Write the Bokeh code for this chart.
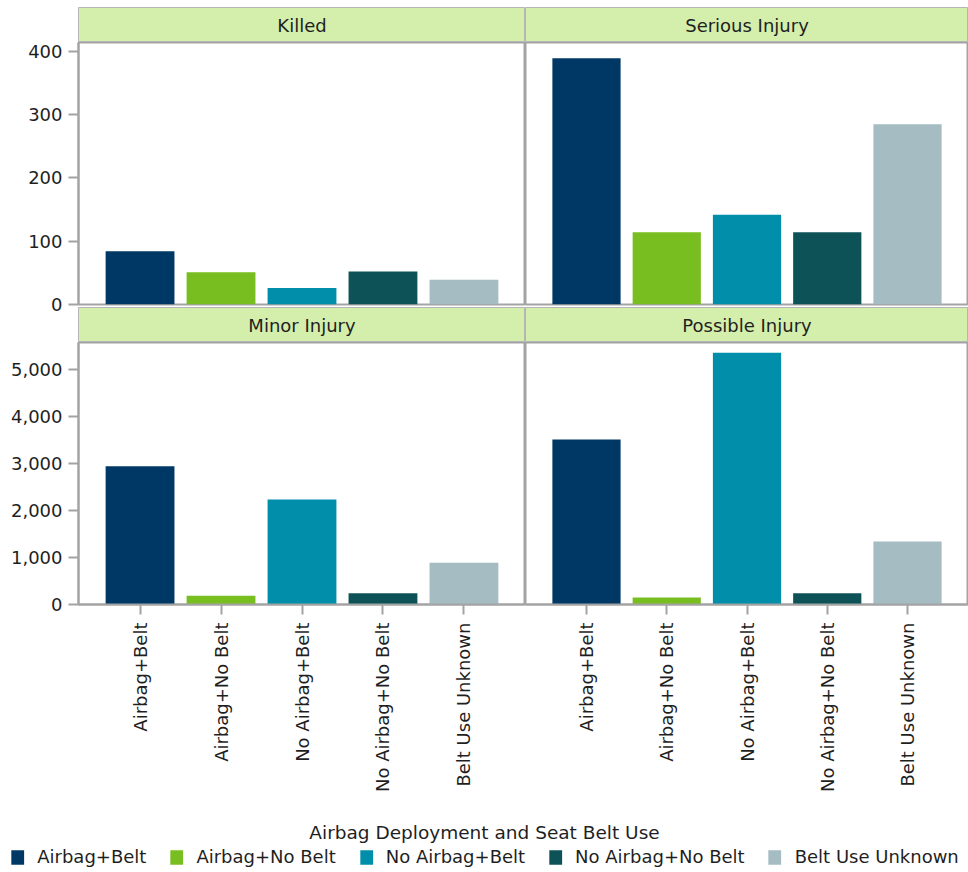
import math
from bokeh.plotting import figure
from bokeh.layouts import column, row
from bokeh.models import (ColumnDataSource, FactorRange, Range1d, SingleIntervalTicker,
                          NumeralTickFormatter, Legend, LegendItem)
from bokeh.core.properties import value
from bokeh.embed import file_html
from bokeh.resources import INLINE

# ---------------- data ----------------
categories = ["Airbag+Belt", "Airbag+No Belt", "No Airbag+Belt", "No Airbag+No Belt", "Belt Use Unknown"]
colors = ["#003865", "#78BE21", "#008EAA", "#0D5257", "#A4BCC2"]
panel_titles = ["Killed", "Serious Injury", "Minor Injury", "Possible Injury"]
killed = [84, 51, 26, 52, 39]
serious = [389, 114, 142, 114, 285]
minor = [2943, 185, 2234, 240, 887]
possible = [3511, 149, 5355, 240, 1340]
legend_title = "Airbag Deployment and Seat Belt Use"

# ---------------- style ----------------
FONT = "DejaVu Sans"
FS = "18px"
TXT = "#1f1f1f"
AX = "#a3a3a3"
HEAD = "#D4EEAB"
AXIS_W = 78
FRAME_W = [447, 443]
FRAME_H = 262


def header(title, left, top_pad):
    w = FRAME_W[0 if left else 1] + (AXIS_W if left else 0)
    p = figure(width=w, height=35 + top_pad, x_range=Range1d(0, 1), y_range=Range1d(0, 1),
               x_axis_location=None, y_axis_location=None, toolbar_location=None,
               output_backend="svg", min_border_left=AXIS_W if left else 0,
               min_border_right=0, min_border_top=top_pad, min_border_bottom=0,
               background_fill_color=HEAD, border_fill_alpha=0,
               outline_line_color="#b5b5b5", outline_line_width=1)
    p.grid.visible = False
    p.text(x=[0.5], y=[0.5], text=[title], text_align="center", text_baseline="middle",
           text_font=value(FONT), text_font_size=FS, text_color=TXT)
    return p


def panel(vals, ymax, interval, left, bottom):
    w = FRAME_W[0 if left else 1] + (AXIS_W if left else 0)
    bb = 196 if bottom else 11
    h = FRAME_H + bb
    xr = FactorRange(factors=categories, range_padding=0.26, range_padding_units="absolute")
    p = figure(width=w, height=h, x_range=xr, y_range=Range1d(0, ymax),
               x_axis_location="below" if bottom else None,
               y_axis_location="left" if left else None,
               toolbar_location=None, output_backend="svg",
               min_border_left=AXIS_W if left else 0, min_border_right=0,
               min_border_top=0, min_border_bottom=bb,
               outline_line_color=AX, outline_line_width=2, border_fill_alpha=0)
    p.grid.visible = False
    src = ColumnDataSource(dict(cat=categories, val=vals, col=colors))
    p.vbar(x="cat", top="val", width=0.85, source=src, fill_color="col", line_color=None)
    if left:
        ax = p.yaxis[0]
        ax.ticker = SingleIntervalTicker(interval=interval, num_minor_ticks=0)
        ax.formatter = NumeralTickFormatter(format="0,0")
        ax.axis_line_color = AX
        ax.axis_line_width = 2
        ax.major_tick_line_color = AX
        ax.major_tick_line_width = 2
        ax.major_tick_out = 10
        ax.major_tick_in = 0
        ax.minor_tick_line_color = None
        ax.major_label_standoff = 6
        ax.major_label_text_font = FONT
        ax.major_label_text_font_size = FS
        ax.major_label_text_color = TXT
    if bottom:
        ax = p.xaxis[0]
        ax.axis_line_color = AX
        ax.axis_line_width = 2
        ax.major_tick_line_color = AX
        ax.major_tick_line_width = 2
        ax.major_tick_out = 10
        ax.major_tick_in = 0
        ax.minor_tick_line_color = None
        ax.major_label_orientation = math.pi / 2
        ax.major_label_standoff = 8
        ax.major_label_text_font = FONT
        ax.major_label_text_font_size = FS
        ax.major_label_text_color = TXT
    return p


h1 = row(header(panel_titles[0], True, 7), header(panel_titles[1], False, 7))
top = row(panel(killed, 414, 100, True, False), panel(serious, 414, 100, False, False))
h2 = row(header(panel_titles[2], True, 0), header(panel_titles[3], False, 0),
         styles={"margin-top": "-8px"})
bot = row(panel(minor, 5574, 1000, True, True), panel(possible, 5574, 1000, False, True))

# legend figure
lg = figure(width=AXIS_W + sum(FRAME_W), height=70,
            x_range=FactorRange(factors=categories), y_range=Range1d(0, 1),
            x_axis_location=None, y_axis_location=None, toolbar_location=None,
            output_backend="svg", min_border_left=0, min_border_right=0,
            min_border_top=0, min_border_bottom=0, outline_line_color=None)
lg.grid.visible = False
lg.text(x=[categories[2]], y=[0.55], text=[legend_title], text_align="center",
        text_baseline="middle", text_font=value(FONT), text_font_size="18.5px",
        text_color=TXT)
items = []
for c, col in zip(categories, colors):
    r = lg.vbar(x=[c], top=[0], bottom=[0], width=0.1, fill_color=col, line_color=None)
    items.append(LegendItem(label=c, renderers=[r]))
leg = Legend(items=items, orientation="horizontal", location="bottom_center",
             padding=0, margin=3, spacing=22, label_standoff=12,
             glyph_width=16, glyph_height=18, label_height=18,
             label_text_font=FONT, label_text_font_size="18px", label_text_color=TXT,
             border_line_color=None, background_fill_alpha=0)
lg.add_layout(leg, "center")

layout = column(h1, top, h2, bot, lg, spacing=0)

open("out.html", "w").write(file_html(layout, INLINE))
